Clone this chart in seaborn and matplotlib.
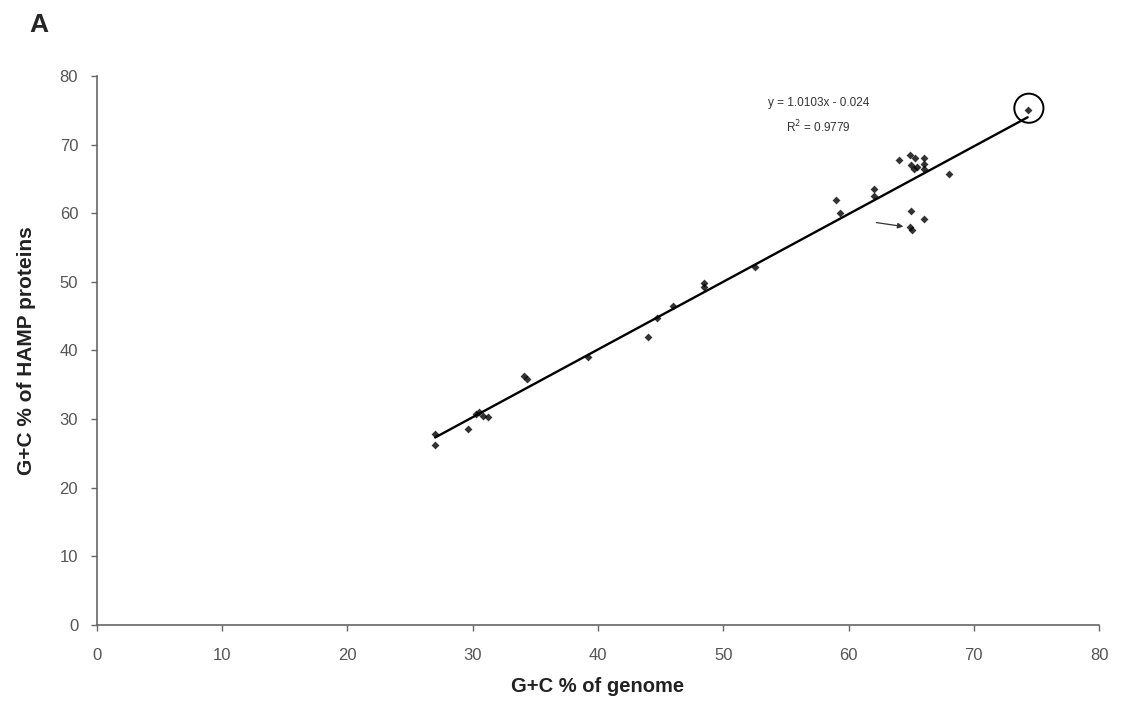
import matplotlib
matplotlib.use("Agg")
import matplotlib.pyplot as plt
import seaborn as sns
import numpy as np
import pandas as pd

genome_gc = [27.0, 27.0, 29.6, 30.3, 30.5, 30.8, 31.2, 34.1, 34.3, 39.2, 44.0, 44.7,
             46.0, 48.5, 48.5, 52.5, 59.0, 59.3, 62.0, 62.0, 64.0, 64.9, 65.0, 65.2,
             65.3, 65.5, 66.0, 66.0, 66.0, 68.0, 65.0, 66.0, 64.9, 65.1, 74.3]
hamp_gc = [27.8, 26.3, 28.5, 30.8, 31.0, 30.5, 30.3, 36.3, 35.8, 39.0, 42.0, 44.8,
           46.5, 49.2, 49.8, 52.2, 62.0, 60.0, 63.5, 62.5, 67.8, 68.5, 67.0, 66.5,
           68.0, 66.8, 68.0, 67.2, 66.5, 65.7, 60.3, 59.2, 58.0, 57.6, 75.1]
x_ticks = [0, 10, 20, 30, 40, 50, 60, 70, 80]
y_ticks = [0, 10, 20, 30, 40, 50, 60, 70, 80]
equation = "y = 1.0103x - 0.024"
r2_text = "R$^2$ = 0.9779"
x_label = "G+C % of genome"
y_label = "G+C % of HAMP proteins"
panel = "A"
highlight = (74.4, 75.3)
arrow_from = (62.0, 58.7)
arrow_to = (64.6, 58.0)

df = pd.DataFrame({"genome": genome_gc, "hamp": hamp_gc})

sns.set_style("white")
plt.rcParams["font.family"] = ["Liberation Sans", "DejaVu Sans"]

fig = plt.figure(figsize=(11.21, 7.08), dpi=100)
ax = fig.add_axes([0.0865, 0.1172, 0.8939, 0.7755])

sns.regplot(data=df, x="genome", y="hamp", ax=ax, ci=None, truncate=True,
            marker="D", color="black",
            scatter_kws={"s": 16, "linewidths": 0},
            line_kws={"color": "black", "linewidth": 1.7})

ax.scatter([highlight[0]], [highlight[1]], s=440, facecolors="none",
           edgecolors="black", linewidths=1.4, zorder=5)
ax.annotate("", xy=arrow_to, xytext=arrow_from,
            arrowprops=dict(arrowstyle="-|>", color="#333333", lw=0.9,
                            mutation_scale=8))

ax.text(57.6, 76.0, equation, ha="center", va="center", fontsize=8.5, color="#333333")
ax.text(57.6, 72.6, r2_text, ha="center", va="center", fontsize=8.5, color="#333333")

ax.set_xlim(0, 80)
ax.set_ylim(0, 80)
ax.set_xticks(x_ticks)
ax.set_yticks(y_ticks)
ax.tick_params(axis="both", direction="out", length=4.5, width=1, color="#666666",
               labelsize=12, labelcolor="#555555", bottom=True, left=True)
ax.tick_params(axis="x", pad=12)
ax.tick_params(axis="y", pad=9)
for side in ["top", "right"]:
    ax.spines[side].set_visible(False)
for side in ["left", "bottom"]:
    ax.spines[side].set_color("#666666")
    ax.spines[side].set_linewidth(1.2)

ax.set_xlabel(x_label, fontsize=14.5, fontweight="bold", labelpad=10, color="#222222")
ax.set_ylabel(y_label, fontsize=15, fontweight="bold", labelpad=17, color="#222222")

fig.text(0.026, 0.965, panel, fontsize=19, fontweight="heavy", ha="left", va="center")

fig.savefig("out.png", dpi=100)
